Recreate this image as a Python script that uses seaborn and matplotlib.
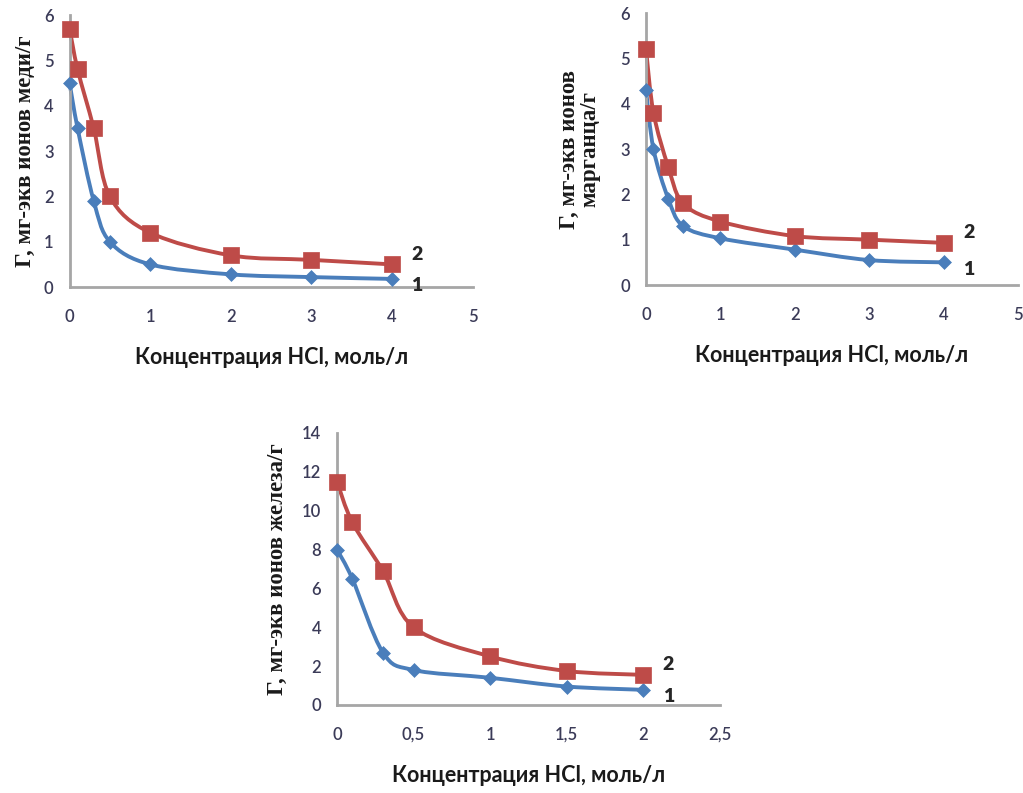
import numpy as np
import matplotlib
matplotlib.use('Agg')
import matplotlib.pyplot as plt
from matplotlib.path import Path
from matplotlib.patches import PathPatch
import seaborn as sns

# Copper (медь)
cu_x = [0, 0.1, 0.3, 0.5, 1, 2, 3, 4]
cu_1 = [4.5, 3.5, 1.9, 1.0, 0.5, 0.28, 0.22, 0.18]
cu_2 = [5.7, 4.8, 3.5, 2.0, 1.2, 0.7, 0.6, 0.5]

# Manganese (марганец)
mn_x = [0, 0.1, 0.3, 0.5, 1, 2, 3, 4]
mn_1 = [4.3, 3.0, 1.9, 1.3, 1.03, 0.78, 0.55, 0.5]
mn_2 = [5.2, 3.8, 2.6, 1.8, 1.4, 1.08, 1.0, 0.93]

# Iron (железо)
fe_x = [0, 0.1, 0.3, 0.5, 1, 1.5, 2]
fe_1 = [8.0, 6.5, 2.7, 1.8, 1.4, 0.95, 0.78]
fe_2 = [11.5, 9.4, 6.9, 4.0, 2.5, 1.75, 1.55]

x_label = 'Концентрация HCl, моль/л'
y_labels = ['Г, мг-экв ионов меди/г', 'Г, мг-экв ионов\nмарганца/г', 'Г, мг-экв ионов железа/г']

BLUE = '#4A7EBB'
RED = '#BE4B48'
AXIS = '#A6A6A6'
TICK_TXT = '#3B3B58'

sns.set_style('white')
plt.rcParams['font.family'] = ['Lato', 'DejaVu Sans']


def smooth_curve(ax, x, y, color):
    # Excel-like smoothed line: cubic Bezier through the data points
    pts = np.column_stack([x, y]).astype(float)
    n = len(pts)
    verts = [pts[0]]
    codes = [Path.MOVETO]
    for i in range(n - 1):
        p0 = pts[i - 1] if i > 0 else pts[i]
        p1 = pts[i]
        p2 = pts[i + 1]
        p3 = pts[i + 2] if i + 2 < n else pts[i + 1]
        c1 = p1 + (p2 - p0) / 6.0
        c2 = p2 - (p3 - p1) / 6.0
        verts += [c1, c2, p2]
        codes += [Path.CURVE4] * 3
    ax.add_patch(PathPatch(Path(verts, codes), facecolor='none', edgecolor=color,
                           lw=2.8, zorder=2, capstyle='round', joinstyle='round',
                           clip_on=False))


def draw_panel(ax, x, s1, s2, ymax, ystep, xmax, xstep, ylabel, comma=False, ypad=10):
    smooth_curve(ax, x, s1, BLUE)
    smooth_curve(ax, x, s2, RED)
    sns.scatterplot(x=x, y=s1, ax=ax, marker='D', s=50, color=BLUE, edgecolor=BLUE,
                    linewidth=0.5, zorder=3, clip_on=False)
    sns.scatterplot(x=x, y=s2, ax=ax, marker='s', s=130, color=RED, edgecolor=RED,
                    linewidth=0.5, zorder=3, clip_on=False)

    ax.set_xlim(0, xmax)
    ax.set_ylim(0, ymax)
    xt = np.arange(0, xmax + xstep / 2, xstep)
    yt = np.arange(0, ymax + ystep / 2, ystep)
    ax.set_xticks(xt)
    ax.set_yticks(yt)
    if comma:
        xl = [('%g' % v).replace('.', ',') for v in xt]
    else:
        xl = ['%g' % v for v in xt]
    ax.set_xticklabels(xl, fontsize=12, fontweight='semibold', color=TICK_TXT)
    ax.set_yticklabels(['%g' % v for v in yt], fontsize=12, fontweight='semibold',
                       color=TICK_TXT)

    sns.despine(ax=ax)
    for side in ['left', 'bottom']:
        ax.spines[side].set_color(AXIS)
        ax.spines[side].set_linewidth(2)
    ax.tick_params(axis='both', direction='inout', length=7, width=1.6, color=AXIS)
    ax.tick_params(axis='x', pad=12)
    ax.tick_params(axis='y', pad=8)
    ax.patch.set_alpha(0)

    ax.set_xlabel(x_label, fontsize=15.5, fontweight='bold', color='#1a1a1a', labelpad=16)
    ax.set_ylabel(ylabel, fontsize=16.5, fontweight='bold', color='#1a1a1a',
                  family=['Liberation Serif', 'DejaVu Serif'], labelpad=ypad, linespacing=1.0)

    # curve numbers next to the last points
    ax.annotate('2', (x[-1], s2[-1]), xytext=(14, 1), textcoords='offset points',
                fontsize=14, fontweight='heavy', va='bottom', ha='left', annotation_clip=False)
    ax.annotate('1', (x[-1], s1[-1]), xytext=(14, -5), textcoords='offset points',
                fontsize=14, fontweight='heavy', va='center', ha='left', annotation_clip=False)


fig = plt.figure(figsize=(10.23, 7.93), dpi=100)
ax1 = fig.add_axes([0.068, 0.638, 0.394, 0.343])
ax2 = fig.add_axes([0.6315, 0.6406, 0.3636, 0.343])
ax3 = fig.add_axes([0.3294, 0.111, 0.3744, 0.343])

draw_panel(ax1, cu_x, cu_1, cu_2, 6, 1, 5, 1, y_labels[0], ypad=6)
draw_panel(ax2, mn_x, mn_1, mn_2, 6, 1, 5, 1, y_labels[1], ypad=14)
draw_panel(ax3, fe_x, fe_1, fe_2, 14, 2, 2.5, 0.5, y_labels[2], comma=True, ypad=10)

fig.savefig('out.png', dpi=100, facecolor='white')
